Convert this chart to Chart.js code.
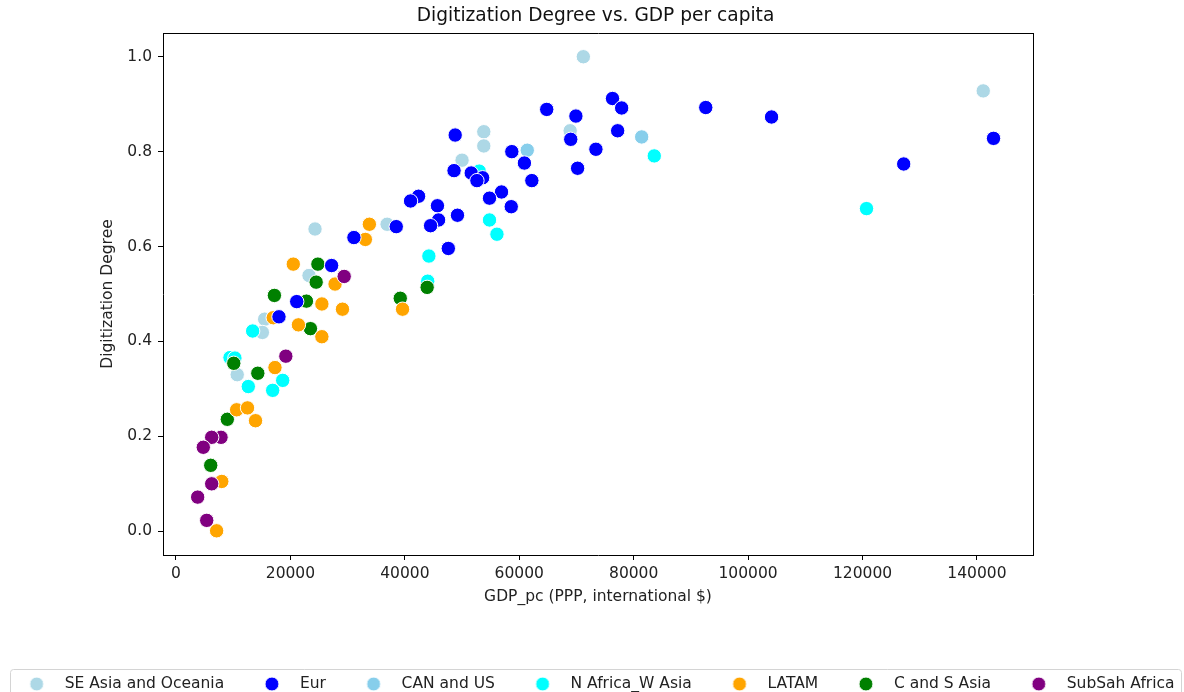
<!DOCTYPE html>
<html>
<head>
<meta charset="utf-8">
<script src="https://cdn.jsdelivr.net/npm/chart.js@4.4.1/dist/chart.umd.min.js"></script>
<style>
body{margin:0;background:#fff;}
</style>
</head>
<body>
<canvas id="scatter" width="1184" height="692"></canvas>
<script>
/* =========================================
DATA (GDP per capita, digitization degree)
========================================= */

const groupNames = [
'SE Asia and Oceania',
'Eur',
'CAN and US',
'N Africa_W Asia',
'LATAM',
'C and S Asia',
'SubSah Africa'
];

const groupColors = [
'#add8e6',
'#0000ff',
'#87ceeb',
'#00ffff',
'#ffa500',
'#008000',
'#800080'
];

const seAsiaX = [71200,141100,53800,53800,68900,50000,36900,24300,23250,15500,15100,10700];
const seAsiaY = [1.0,0.928,0.842,0.812,0.844,0.782,0.647,0.637,0.539,0.447,0.419,0.330];

const eurX = [76300,77900,64800,69900,92600,104100,127200,142900,48800,69000,77200,73400,70200,58700,60900,62200,48600,51600,53600,52600,56900,54800,58600,42400,41000,45700,49200,45900,44500,38500,47600,31100,27200,21100,18000];
const eurY = [0.912,0.892,0.889,0.875,0.893,0.873,0.774,0.828,0.835,0.826,0.844,0.805,0.765,0.800,0.776,0.739,0.760,0.755,0.745,0.739,0.715,0.702,0.684,0.706,0.696,0.686,0.666,0.656,0.644,0.642,0.596,0.619,0.560,0.484,0.452];

const canUsX = [81400,61400];
const canUsY = [0.831,0.803];

const nAfricaX = [83600,120700,53000,54800,56100,44200,44000,13400,9440,10300,18650,16900,12640];
const nAfricaY = [0.791,0.680,0.759,0.656,0.626,0.580,0.527,0.422,0.366,0.365,0.318,0.297,0.305];

const latamX = [33800,33100,20500,27800,25500,29100,39600,17000,21400,25500,17300,10600,12500,13900,8000,7100];
const latamY = [0.647,0.615,0.563,0.521,0.479,0.468,0.468,0.450,0.435,0.410,0.345,0.256,0.260,0.233,0.105,0.001];

const cAsiaX = [24800,24500,17200,22800,23500,39200,43900,10100,14300,8970,6070];
const cAsiaY = [0.563,0.525,0.497,0.485,0.427,0.491,0.514,0.354,0.333,0.236,0.139];

const subSahX = [29400,19200,7870,6240,4770,6240,3790,5370];
const subSahY = [0.537,0.369,0.198,0.198,0.177,0.100,0.072,0.023];

const xTicks = [0,20000,40000,60000,80000,100000,120000,140000];
const yTicks = [0.0,0.2,0.4,0.6,0.8,1.0];

/* =========================================
DATASETS
========================================= */

const groupX = [seAsiaX,eurX,canUsX,nAfricaX,latamX,cAsiaX,subSahX];
const groupY = [seAsiaY,eurY,canUsY,nAfricaY,latamY,cAsiaY,subSahY];

// higher order = drawn underneath
const drawOrder = [6,1,5,4,2,3,0];

const datasets = groupNames.map((name,i)=>({

label:name,

data:groupX[i].map((x,j)=>({x:x,y:groupY[i][j]})),

backgroundColor:groupColors[i],
borderColor:'#ffffff',
borderWidth:1,
pointRadius:7.2,
pointHoverRadius:7.2,
order:drawOrder[i]

}));

function legendDot(color){

const c = document.createElement('canvas');
c.width = 16;
c.height = 16;
const g = c.getContext('2d');
g.beginPath();
g.arc(8,8,7,0,Math.PI*2);
g.fillStyle = color;
g.fill();
g.lineWidth = 1;
g.strokeStyle = '#ffffff';
g.stroke();
return c;

}

/* legend frame like matplotlib */

const legendFrame = {

id:'legendFrame',

afterDraw(chart){

const lg = chart.legend;
const ctx = chart.ctx;
const mid = lg.top + lg.options.labels.padding + 7.75;

ctx.save();
ctx.strokeStyle = '#d4d4d4';
ctx.lineWidth = 1;
ctx.beginPath();
ctx.roundRect(10.5, mid - 14.5, 1171, 40, 3);
ctx.stroke();
ctx.restore();

}

};

/* =========================================
CHART
========================================= */

// negative side padding lets the legend row use the full width
const PADL = 36.5;
const PADR = 43.5;

Chart.defaults.font.family = "'DejaVu Sans', sans-serif";
Chart.defaults.color = '#222';

new Chart(document.getElementById('scatter'), {

type:'scatter',

data:{ datasets:datasets },

options:{

responsive:false,
animation:false,
devicePixelRatio:1,

layout:{
padding:{ left:-PADL, right:-PADR, top:0, bottom:-9.75 }
},

scales:{

x:{
type:'linear',
position:'bottom',
min:-2272,
max:149800,
afterBuildTicks:(s)=>{ s.ticks = xTicks.map(v=>({value:v})); },
ticks:{
font:{ size:15.5 },
color:'#222',
padding:5,
maxRotation:0,
callback:(v)=>String(v)
},
grid:{
drawOnChartArea:false,
drawTicks:true,
tickLength:5,
color:'#000'
},
border:{ display:true, color:'#000', width:1 },
title:{
display:true,
text:'GDP_pc (PPP, international $)',
font:{ size:15.5 },
color:'#222',
padding:{ top:0, bottom:42.5 }
},
afterFit:(s)=>{ s.height = 93.75; }
},

y:{
type:'linear',
position:'left',
min:-0.05,
max:1.05,
afterBuildTicks:(s)=>{ s.ticks = yTicks.map(v=>({value:v})); },
ticks:{
font:{ size:15.5 },
color:'#222',
padding:6,
callback:(v)=>v.toFixed(1)
},
grid:{
drawOnChartArea:false,
drawTicks:true,
tickLength:5,
color:'#000'
},
border:{ display:true, color:'#000', width:1 },
title:{
display:true,
text:'Digitization Degree',
font:{ size:15.5 },
color:'#222',
padding:{ top:98.7 + PADL, bottom:0 }
},
afterFit:(s)=>{ s.width = 163 + PADL; }
},

// right spine
y2:{
type:'linear',
position:'right',
ticks:{ display:false },
grid:{ display:false },
border:{ display:true, color:'#000', width:1 },
afterFit:(s)=>{ s.width = 151 + PADR; }
},

// top spine
x2:{
type:'linear',
position:'top',
ticks:{ display:false },
grid:{ display:false },
border:{ display:true, color:'#000', width:1 },
afterFit:(s)=>{ s.height = 0; }
}

},

plugins:{

title:{
display:true,
text:'Digitization Degree vs. GDP per capita',
font:{ size:18.6, weight:'normal' },
color:'#111',
padding:{ top:4.8, bottom:5.9 }
},

legend:{
display:true,
position:'bottom',
labels:{
usePointStyle:true,
pointStyleWidth:40.5,
boxHeight:15.5,
padding:27.5,
font:{ size:15.5 },
color:'#222',
sort:(a,b)=>a.datasetIndex - b.datasetIndex,
generateLabels:(chart)=>{
const items = Chart.defaults.plugins.legend.labels.generateLabels(chart);
items.forEach(it=>{ it.pointStyle = legendDot(it.fillStyle); });
return items;
}
}
},

tooltip:{ enabled:false }

}

},

plugins:[legendFrame]

});
</script>
</body>
</html>
